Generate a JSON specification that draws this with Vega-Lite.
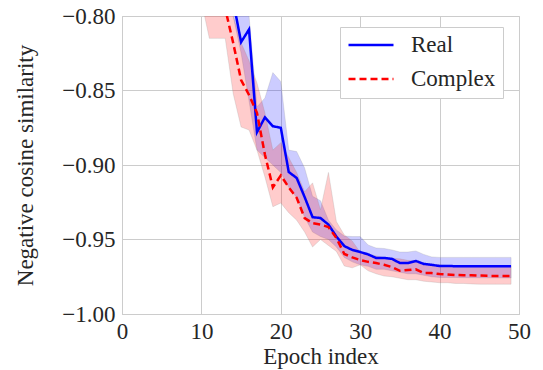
{
  "$schema": "https://vega.github.io/schema/vega-lite/v6.json",
  "width": 397,
  "height": 298,
  "autosize": "none",
  "padding": {"left": 122, "top": 16, "right": 24, "bottom": 56},
  "background": "white",
  "config": {
    "font": "Liberation Serif",
    "view": {"stroke": "#cccccc", "strokeWidth": 1},
    "axis": {
      "labelFont": "Liberation Serif",
      "titleFont": "Liberation Serif",
      "labelFontSize": 23,
      "titleFontSize": 23,
      "titleFontWeight": "normal",
      "labelColor": "#262626",
      "titleColor": "#262626",
      "ticks": false,
      "domainColor": "#cccccc",
      "gridColor": "#cccccc",
      "gridOpacity": 1,
      "gridWidth": 1
    },
    "legend": {
      "labelFont": "Liberation Serif",
      "labelFontSize": 23,
      "labelColor": "#262626",
      "symbolType": "stroke",
      "symbolSize": 2025,
      "symbolStrokeWidth": 2.5,
      "symbolFillColor": "transparent",
      "strokeColor": "#cccccc",
      "fillColor": "white",
      "padding": 7,
      "clipHeight": 22,
      "labelOffset": 16,
      "rowPadding": 11
    }
  },
  "data": {
    "values": [
      {"epoch": 10, "series": "Real", "mean": -0.70, "lo": -0.74, "hi": -0.66},
      {"epoch": 11, "series": "Real", "mean": -0.72, "lo": -0.76, "hi": -0.68},
      {"epoch": 12, "series": "Real", "mean": -0.74, "lo": -0.77, "hi": -0.70},
      {"epoch": 13, "series": "Real", "mean": -0.76, "lo": -0.78, "hi": -0.73},
      {"epoch": 14, "series": "Real", "mean": -0.79, "lo": -0.80, "hi": -0.77},
      {"epoch": 15, "series": "Real", "mean": -0.8175, "lo": -0.825, "hi": -0.79},
      {"epoch": 16, "series": "Real", "mean": -0.809, "lo": -0.857, "hi": -0.80},
      {"epoch": 17, "series": "Real", "mean": -0.878, "lo": -0.89, "hi": -0.861},
      {"epoch": 18, "series": "Real", "mean": -0.868, "lo": -0.895, "hi": -0.855},
      {"epoch": 19, "series": "Real", "mean": -0.874, "lo": -0.90, "hi": -0.838},
      {"epoch": 20, "series": "Real", "mean": -0.875, "lo": -0.905, "hi": -0.844},
      {"epoch": 21, "series": "Real", "mean": -0.9047, "lo": -0.915, "hi": -0.89},
      {"epoch": 22, "series": "Real", "mean": -0.9087, "lo": -0.922, "hi": -0.891},
      {"epoch": 23, "series": "Real", "mean": -0.9215, "lo": -0.935, "hi": -0.902},
      {"epoch": 24, "series": "Real", "mean": -0.935, "lo": -0.945, "hi": -0.921},
      {"epoch": 25, "series": "Real", "mean": -0.9356, "lo": -0.948, "hi": -0.924},
      {"epoch": 26, "series": "Real", "mean": -0.940, "lo": -0.950, "hi": -0.937},
      {"epoch": 27, "series": "Real", "mean": -0.948, "lo": -0.955, "hi": -0.9436},
      {"epoch": 28, "series": "Real", "mean": -0.9544, "lo": -0.962, "hi": -0.9477},
      {"epoch": 29, "series": "Real", "mean": -0.957, "lo": -0.965, "hi": -0.948},
      {"epoch": 30, "series": "Real", "mean": -0.9584, "lo": -0.967, "hi": -0.948},
      {"epoch": 31, "series": "Real", "mean": -0.960, "lo": -0.968, "hi": -0.9537},
      {"epoch": 32, "series": "Real", "mean": -0.9624, "lo": -0.970, "hi": -0.9557},
      {"epoch": 33, "series": "Real", "mean": -0.9624, "lo": -0.970, "hi": -0.956},
      {"epoch": 34, "series": "Real", "mean": -0.963, "lo": -0.971, "hi": -0.957},
      {"epoch": 35, "series": "Real", "mean": -0.9658, "lo": -0.972, "hi": -0.9584},
      {"epoch": 36, "series": "Real", "mean": -0.9658, "lo": -0.973, "hi": -0.9584},
      {"epoch": 37, "series": "Real", "mean": -0.9644, "lo": -0.973, "hi": -0.9577},
      {"epoch": 38, "series": "Real", "mean": -0.9664, "lo": -0.974, "hi": -0.960},
      {"epoch": 39, "series": "Real", "mean": -0.967, "lo": -0.975, "hi": -0.9617},
      {"epoch": 40, "series": "Real", "mean": -0.9678, "lo": -0.9755, "hi": -0.962},
      {"epoch": 41, "series": "Real", "mean": -0.9678, "lo": -0.9755, "hi": -0.962},
      {"epoch": 42, "series": "Real", "mean": -0.9679, "lo": -0.9755, "hi": -0.962},
      {"epoch": 43, "series": "Real", "mean": -0.9679, "lo": -0.9756, "hi": -0.962},
      {"epoch": 44, "series": "Real", "mean": -0.968, "lo": -0.9756, "hi": -0.962},
      {"epoch": 45, "series": "Real", "mean": -0.968, "lo": -0.9757, "hi": -0.962},
      {"epoch": 46, "series": "Real", "mean": -0.968, "lo": -0.9757, "hi": -0.962},
      {"epoch": 47, "series": "Real", "mean": -0.968, "lo": -0.9757, "hi": -0.962},
      {"epoch": 48, "series": "Real", "mean": -0.968, "lo": -0.9758, "hi": -0.962},
      {"epoch": 49, "series": "Real", "mean": -0.968, "lo": -0.9758, "hi": -0.962},
      {"epoch": 10, "series": "Complex", "mean": -0.72, "lo": -0.79, "hi": -0.68},
      {"epoch": 11, "series": "Complex", "mean": -0.74, "lo": -0.815, "hi": -0.70},
      {"epoch": 12, "series": "Complex", "mean": -0.76, "lo": -0.815, "hi": -0.72},
      {"epoch": 13, "series": "Complex", "mean": -0.795, "lo": -0.815, "hi": -0.75},
      {"epoch": 14, "series": "Complex", "mean": -0.818, "lo": -0.852, "hi": -0.80},
      {"epoch": 15, "series": "Complex", "mean": -0.843, "lo": -0.8745, "hi": -0.818},
      {"epoch": 16, "series": "Complex", "mean": -0.853, "lo": -0.8765, "hi": -0.83},
      {"epoch": 17, "series": "Complex", "mean": -0.865, "lo": -0.89, "hi": -0.845},
      {"epoch": 18, "series": "Complex", "mean": -0.893, "lo": -0.908, "hi": -0.865},
      {"epoch": 19, "series": "Complex", "mean": -0.915, "lo": -0.928, "hi": -0.89},
      {"epoch": 20, "series": "Complex", "mean": -0.907, "lo": -0.9255, "hi": -0.885},
      {"epoch": 21, "series": "Complex", "mean": -0.915, "lo": -0.932, "hi": -0.895},
      {"epoch": 22, "series": "Complex", "mean": -0.922, "lo": -0.937, "hi": -0.905},
      {"epoch": 23, "series": "Complex", "mean": -0.9356, "lo": -0.945, "hi": -0.918},
      {"epoch": 24, "series": "Complex", "mean": -0.939, "lo": -0.955, "hi": -0.912},
      {"epoch": 25, "series": "Complex", "mean": -0.940, "lo": -0.950, "hi": -0.93},
      {"epoch": 26, "series": "Complex", "mean": -0.9416, "lo": -0.954, "hi": -0.905},
      {"epoch": 27, "series": "Complex", "mean": -0.949, "lo": -0.958, "hi": -0.938},
      {"epoch": 28, "series": "Complex", "mean": -0.9597, "lo": -0.9678, "hi": -0.947},
      {"epoch": 29, "series": "Complex", "mean": -0.962, "lo": -0.969, "hi": -0.951},
      {"epoch": 30, "series": "Complex", "mean": -0.9638, "lo": -0.967, "hi": -0.9585},
      {"epoch": 31, "series": "Complex", "mean": -0.965, "lo": -0.971, "hi": -0.96},
      {"epoch": 32, "series": "Complex", "mean": -0.9658, "lo": -0.973, "hi": -0.961},
      {"epoch": 33, "series": "Complex", "mean": -0.967, "lo": -0.9745, "hi": -0.962},
      {"epoch": 34, "series": "Complex", "mean": -0.9685, "lo": -0.975, "hi": -0.9625},
      {"epoch": 35, "series": "Complex", "mean": -0.971, "lo": -0.976, "hi": -0.963},
      {"epoch": 36, "series": "Complex", "mean": -0.9705, "lo": -0.977, "hi": -0.964},
      {"epoch": 37, "series": "Complex", "mean": -0.970, "lo": -0.977, "hi": -0.9645},
      {"epoch": 38, "series": "Complex", "mean": -0.9725, "lo": -0.978, "hi": -0.966},
      {"epoch": 39, "series": "Complex", "mean": -0.9725, "lo": -0.9785, "hi": -0.9665},
      {"epoch": 40, "series": "Complex", "mean": -0.9732, "lo": -0.979, "hi": -0.967},
      {"epoch": 41, "series": "Complex", "mean": -0.9735, "lo": -0.979, "hi": -0.9675},
      {"epoch": 42, "series": "Complex", "mean": -0.9738, "lo": -0.9795, "hi": -0.968},
      {"epoch": 43, "series": "Complex", "mean": -0.974, "lo": -0.9795, "hi": -0.968},
      {"epoch": 44, "series": "Complex", "mean": -0.974, "lo": -0.9798, "hi": -0.968},
      {"epoch": 45, "series": "Complex", "mean": -0.9742, "lo": -0.98, "hi": -0.968},
      {"epoch": 46, "series": "Complex", "mean": -0.9744, "lo": -0.98, "hi": -0.968},
      {"epoch": 47, "series": "Complex", "mean": -0.9745, "lo": -0.98, "hi": -0.968},
      {"epoch": 48, "series": "Complex", "mean": -0.9745, "lo": -0.98, "hi": -0.968},
      {"epoch": 49, "series": "Complex", "mean": -0.9745, "lo": -0.98, "hi": -0.968}
    ]
  },
  "layer": [
    {
      "mark": {"type": "area", "clip": true, "fillOpacity": 0.2, "stroke": "#888888", "strokeOpacity": 0.2, "strokeWidth": 1},
      "encoding": {
        "x": {"field": "epoch", "type": "quantitative", "scale": {"domain": [0, 50]},
              "axis": {"values": [0, 10, 20, 30, 40, 50], "title": "Epoch index", "labelPadding": 6, "titlePadding": 2, "labelFlush": false}},
        "y": {"field": "lo", "type": "quantitative", "scale": {"domain": [-1.0, -0.8]},
              "axis": {"values": [-1.0, -0.95, -0.9, -0.85, -0.8], "format": ".2f", "title": "Negative cosine similarity", "labelPadding": 7, "titlePadding": 24, "labelFlush": false}},
        "y2": {"field": "hi"},
        "fill": {"field": "series", "type": "nominal", "scale": {"domain": ["Real", "Complex"], "range": ["#0000ff", "#ff0000"]},
                 "legend": {"title": null, "orient": "none", "legendX": 218, "legendY": 11}}
      }
    },
    {
      "mark": {"type": "line", "clip": true, "strokeWidth": 2.5},
      "encoding": {
        "x": {"field": "epoch", "type": "quantitative"},
        "y": {"field": "mean", "type": "quantitative"},
        "stroke": {"field": "series", "type": "nominal", "scale": {"domain": ["Real", "Complex"], "range": ["#0000ff", "#ff0000"]},
                   "legend": {"title": null, "orient": "none", "legendX": 218, "legendY": 11}},
        "strokeDash": {"field": "series", "type": "nominal", "scale": {"domain": ["Real", "Complex"], "range": [[1, 0], [7, 4]]},
                       "legend": {"title": null, "orient": "none", "legendX": 218, "legendY": 11}}
      }
    }
  ]
}
